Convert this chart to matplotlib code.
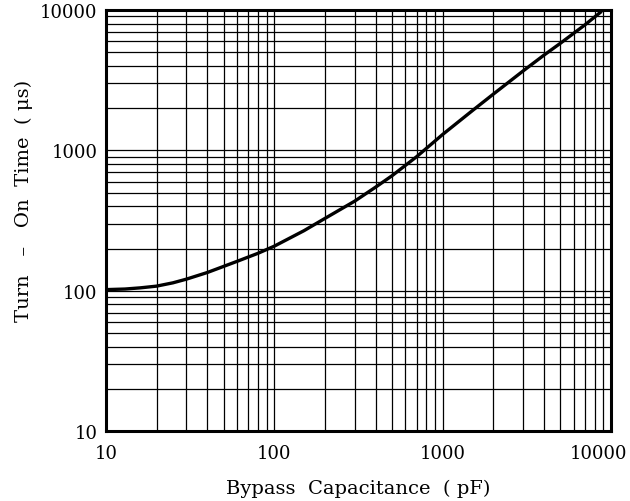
import matplotlib
matplotlib.use("Agg")
import matplotlib.pyplot as plt
import matplotlib.transforms as mtransforms
from matplotlib.ticker import LogLocator, FixedLocator, NullFormatter

# ---------------- Data ----------------
cap_pf = [10, 13, 16, 20, 25, 30, 40, 60, 80, 100, 150, 200, 300, 400, 500, 700,
          1000, 1500, 2000, 3000, 4000, 5000, 7000, 8700]
t_on_us = [102, 103, 105, 108, 114, 121, 135, 162, 185, 208, 268, 328, 435, 548, 660, 902,
           1300, 1920, 2520, 3680, 4780, 5800, 7850, 9700]

major_ticks = [10, 100, 1000, 10000]
tick_labels = ["10", "100", "1000", "10000"]

plt.rcParams["font.family"] = ["DejaVu Serif"]

fig = plt.figure(figsize=(6.3, 5.02), dpi=100)
ax = fig.add_axes([0.168, 0.139, 0.802, 0.839])

ax.set_xscale("log")
ax.set_yscale("log")
ax.set_xlim(10, 10000)
ax.set_ylim(10, 10000)

# grid: every major + minor line
ax.grid(True, which="both", color="black", linewidth=0.9)
ax.set_axisbelow(True)

ax.plot(cap_pf, t_on_us, color="black", linewidth=2.4,
        solid_capstyle="round", solid_joinstyle="round")

ax.xaxis.set_major_locator(FixedLocator(major_ticks))
ax.yaxis.set_major_locator(FixedLocator(major_ticks))
ax.xaxis.set_minor_locator(LogLocator(base=10, subs=range(2, 10)))
ax.yaxis.set_minor_locator(LogLocator(base=10, subs=range(2, 10)))
ax.xaxis.set_minor_formatter(NullFormatter())
ax.yaxis.set_minor_formatter(NullFormatter())
ax.set_xticklabels(tick_labels)
ax.set_yticklabels(tick_labels)
ax.tick_params(which="both", length=0)
ax.tick_params(axis="x", pad=9, labelsize=13)
ax.tick_params(axis="y", pad=6, labelsize=13)

# last x label sits a bit left of the corner in the original
last = ax.get_xticklabels()[-1]
last.set_transform(last.get_transform() +
                   mtransforms.ScaledTranslation(-13 / 100, 0, fig.dpi_scale_trans))

for s in ax.spines.values():
    s.set_linewidth(2.2)

ax.set_xlabel("Bypass  Capacitance  ( pF)", fontsize=14, labelpad=12)
ax.set_ylabel("Turn   \u2013   On  Time  ( \u03bcs)", fontsize=14, labelpad=10)
ax.yaxis.set_label_coords(-0.145, 0.55)

fig.savefig("out.png", dpi=100)
